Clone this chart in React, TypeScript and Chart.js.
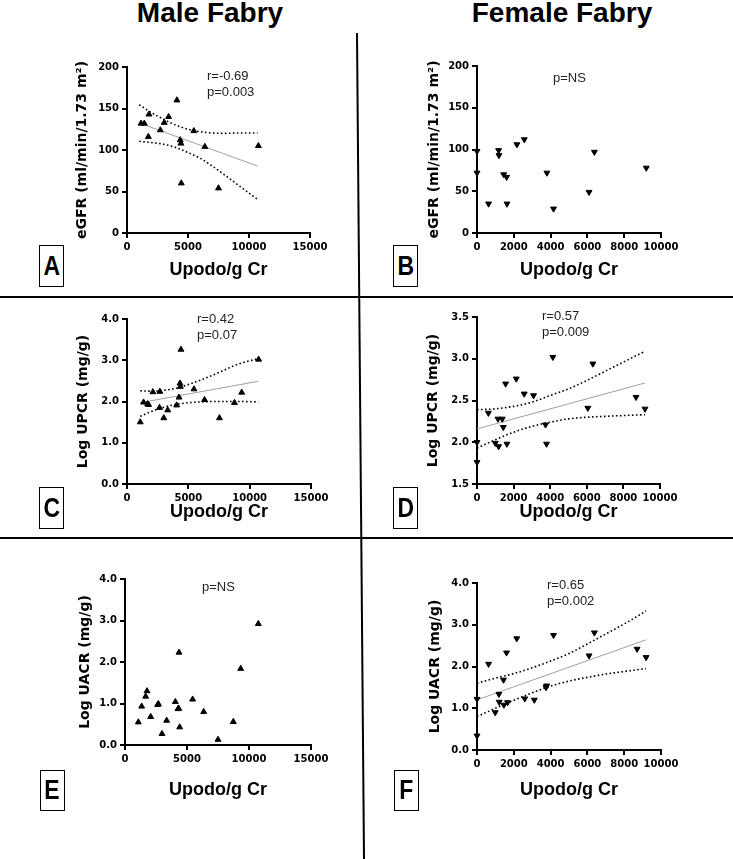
import React, { useEffect, useRef } from "react";
import { Chart, registerables } from "chart.js";
Chart.register(...registerables);

// ---------- Data ----------
// Panel A: Male Fabry, eGFR vs Upodo/g Cr
const aX = [1150, 1420, 1800, 1750, 2730, 3050, 3410, 4090, 4360, 4420, 4450, 5480, 6380, 7500, 10770];
const aY = [132, 132, 143, 116, 124, 133, 140, 160, 112, 108, 60, 123, 104, 54, 105];
const aFitX = [1000, 10700];
const aFitY = [132.5, 80.7];
const aCiX = [1000, 2000, 3000, 4000, 5000, 6000, 7000, 8000, 9000, 10700];
const aUpper = [154.5, 145, 137, 130, 125, 122, 120.5, 120, 120.5, 120.5];
const aLower = [110.5, 109, 107, 103, 97, 90, 80.5, 70, 59, 40.5];

// Panel B: Female Fabry, eGFR vs Upodo/g Cr
const bX = [0, 0, 630, 1175, 1195, 1450, 1610, 1630, 2170, 2570, 3800, 4160, 6090, 6380, 9200];
const bY = [98, 72, 35, 99, 93, 70, 67, 35, 106, 112, 72, 29, 49, 97, 78];

// Panel C: Male Fabry, Log UPCR vs Upodo/g Cr
const cX = [1080, 1350, 1680, 1760, 2110, 2680, 2650, 3000, 3320, 4050, 4240, 4320, 4350, 4400, 5460, 6320, 7540, 8760, 9350, 10730];
const cY = [1.5, 1.98, 1.94, 1.92, 2.23, 2.24, 1.85, 1.6, 1.79, 1.91, 2.1, 2.44, 2.36, 3.26, 2.3, 2.04, 1.6, 1.97, 2.22, 3.02];
const cFitX = [1080, 10700];
const cFitY = [1.97, 2.49];
const cCiX = [1080, 2000, 3000, 4000, 5000, 6000, 7000, 8000, 9000, 10700];
const cUpper = [2.26, 2.25, 2.27, 2.32, 2.41, 2.52, 2.64, 2.77, 2.9, 3.04];
const cLower = [1.64, 1.76, 1.86, 1.93, 1.97, 1.99, 2.0, 2.0, 2.0, 1.99];

// Panel D: Female Fabry, Log UPCR vs Upodo/g Cr
const dX = [0, 0, 620, 1000, 1145, 1180, 1380, 1435, 1565, 1635, 2145, 2580, 3090, 3745, 3800, 4145, 6055, 6330, 8690, 9180];
const dY = [2.0, 1.76, 2.35, 1.99, 2.28, 1.95, 2.28, 2.18, 2.7, 1.98, 2.76, 2.58, 2.56, 2.21, 1.98, 3.02, 2.41, 2.94, 2.54, 2.4];
const dFitX = [0, 9180];
const dFitY = [2.16, 2.71];
const dCiX = [0, 1000, 2000, 3000, 4000, 5000, 6000, 7000, 8000, 9180];
const dUpper = [2.39, 2.4, 2.43, 2.48, 2.56, 2.64, 2.74, 2.85, 2.96, 3.09];
const dLower = [1.93, 2.03, 2.12, 2.19, 2.24, 2.28, 2.3, 2.31, 2.32, 2.33];

// Panel E: Male Fabry, Log UACR vs Upodo/g Cr
const eX = [1075, 1345, 1665, 1775, 2070, 2635, 2690, 2985, 3360, 4060, 4275, 4330, 4355, 4410, 5455, 6345, 7500, 8735, 9330, 10750];
const eY = [0.55, 0.93, 1.17, 1.3, 0.68, 0.97, 0.99, 0.27, 0.59, 1.04, 0.87, 0.88, 2.23, 0.43, 1.1, 0.8, 0.13, 0.56, 1.84, 2.92];

// Panel F: Female Fabry, Log UACR vs Upodo/g Cr
const fX = [0, 0, 630, 990, 1190, 1205, 1440, 1460, 1605, 1660, 2160, 2595, 3115, 3750, 3785, 4160, 6090, 6380, 8700, 9190];
const fY = [1.22, 0.34, 2.06, 0.9, 1.34, 1.15, 1.68, 1.08, 2.33, 1.14, 2.67, 1.23, 1.2, 1.5, 1.54, 2.75, 2.26, 2.81, 2.42, 2.22];
const fFitX = [0, 9190];
const fFitY = [1.2, 2.64];
const fCiX = [0, 1000, 2000, 3000, 4000, 5000, 6000, 7000, 8000, 9190];
const fUpper = [1.6, 1.72, 1.83, 1.97, 2.13, 2.31, 2.54, 2.78, 3.02, 3.33];
const fLower = [0.8, 1.0, 1.19, 1.37, 1.53, 1.65, 1.74, 1.82, 1.88, 1.95];

// Axis settings / labels
const xTitle = "Upodo/g Cr";
const eGFRTitle = "eGFR (ml/min/1.73 m\u00B2)";
const upcrTitle = "Log UPCR (mg/g)";
const uacrTitle = "Log UACR (mg/g)";
const maleXMax = 15000;
const maleXStep = 5000;
const femaleXMax = 10000;
const femaleXStep = 2000;

const zip = (xs: number[], ys: number[]) => xs.map((x, i) => ({ x, y: ys[i] }));

type PanelDef = {
  cx: number; cy: number; cw: number; ch: number;
  L: number; T: number; R: number; B: number;
  yTitleX: number; xTitleY: number;
  xMax: number; xStep: number;
  yMin: number; yMax: number; yStep: number; yDec: number;
  yTitle: string;
  px: number[]; py: number[]; rot: number;
  fitX?: number[]; fitY?: number[];
  ciX?: number[]; up?: number[]; lo?: number[];
};

const Y_TITLE_LH = 14 * 1.2;
const X_TITLE_SIZE = 18;
const X_TITLE_LH = X_TITLE_SIZE * 1.2;

function Panel({ p }: { p: PanelDef }) {
  const ref = useRef<HTMLCanvasElement>(null);
  useEffect(() => {
    const canvas = ref.current!;
    const padL = p.yTitleX - p.cx - Y_TITLE_LH / 2;
    const yWidth = p.L - p.cx - padL;
    const padT = p.T - p.cy;
    const padR = p.cx + p.cw - p.R;
    const xBottom = p.xTitleY + X_TITLE_LH / 2;
    const xHeight = xBottom - p.B;
    const padB = p.cy + p.ch - xBottom;

    const datasets: any[] = [];
    if (p.fitX && p.fitY) {
      datasets.push({
        data: zip(p.fitX, p.fitY), showLine: true, borderColor: "#a0a0a0",
        borderWidth: 1, pointRadius: 0, order: 3,
      });
    }
    if (p.ciX && p.up && p.lo) {
      for (const arr of [p.up, p.lo]) {
        datasets.push({
          data: zip(p.ciX, arr), showLine: true, borderColor: "#000",
          borderWidth: 1.6, borderDash: [1.6, 2.4], pointRadius: 0,
          cubicInterpolationMode: "monotone", order: 2,
        });
      }
    }
    datasets.push({
      data: zip(p.px, p.py), pointStyle: "triangle", rotation: p.rot,
      pointRadius: 3.4, pointBackgroundColor: "#000", pointBorderColor: "#000",
      pointBorderWidth: 1, showLine: false, clip: false, order: 1,
    });

    const tickFont = { family: "'DejaVu Sans', sans-serif", weight: "bold" as const, size: 10 };
    const chart = new Chart(canvas, {
      type: "scatter",
      data: { datasets },
      options: {
        animation: false,
        responsive: false,
        devicePixelRatio: 1,
        layout: { padding: { left: padL, top: padT, right: padR, bottom: padB } },
        plugins: { legend: { display: false }, tooltip: { enabled: false } },
        scales: {
          x: {
            type: "linear", min: 0, max: p.xMax,
            ticks: {
              stepSize: p.xStep, font: tickFont, color: "#000", padding: 3, maxRotation: 0, autoSkip: false,
              callback: (v: any) => String(Math.round(Number(v))),
            },
            grid: { drawOnChartArea: false, drawTicks: true, tickLength: 5, color: "#000", lineWidth: 2 },
            border: { display: true, color: "#000", width: 2 },
            title: {
              display: true, text: xTitle, color: "#000", padding: 0,
              font: { family: "'Liberation Sans', Arial, sans-serif", weight: "bold", size: X_TITLE_SIZE, lineHeight: 1.2 },
            },
            afterFit: (s: any) => { s.height = xHeight; },
          },
          y: {
            type: "linear", min: p.yMin, max: p.yMax,
            ticks: {
              stepSize: p.yStep, font: tickFont, color: "#000", padding: 3,
              callback: (v: any) => Number(v).toFixed(p.yDec),
            },
            grid: { drawOnChartArea: false, drawTicks: true, tickLength: 5, color: "#000", lineWidth: 2 },
            border: { display: true, color: "#000", width: 2 },
            title: {
              display: true, text: p.yTitle, color: "#000", padding: 0,
              font: { family: "'DejaVu Sans', sans-serif", weight: "bold", size: 14, lineHeight: 1.2 },
            },
            afterFit: (s: any) => { s.width = yWidth; },
          },
        },
      } as any,
    });
    return () => chart.destroy();
  }, []);
  return (
    <canvas
      ref={ref}
      width={p.cw}
      height={p.ch}
      style={{ position: "absolute", left: p.cx, top: p.cy, width: p.cw, height: p.ch }}
    />
  );
}

const panels: PanelDef[] = [
  { cx: 60, cy: 45, cw: 290, ch: 250, L: 127, T: 67, R: 310, B: 233, yTitleX: 82, xTitleY: 270,
    xMax: maleXMax, xStep: maleXStep, yMin: 0, yMax: 200, yStep: 50, yDec: 0, yTitle: eGFRTitle,
    px: aX, py: aY, rot: 0, fitX: aFitX, fitY: aFitY, ciX: aCiX, up: aUpper, lo: aLower },
  { cx: 410, cy: 45, cw: 300, ch: 250, L: 477, T: 66, R: 661, B: 233, yTitleX: 434, xTitleY: 270,
    xMax: femaleXMax, xStep: femaleXStep, yMin: 0, yMax: 200, yStep: 50, yDec: 0, yTitle: eGFRTitle,
    px: bX, py: bY, rot: 180 },
  { cx: 60, cy: 300, cw: 290, ch: 235, L: 127, T: 319, R: 311, B: 484, yTitleX: 83, xTitleY: 512,
    xMax: maleXMax, xStep: maleXStep, yMin: 0, yMax: 4, yStep: 1, yDec: 1, yTitle: upcrTitle,
    px: cX, py: cY, rot: 0, fitX: cFitX, fitY: cFitY, ciX: cCiX, up: cUpper, lo: cLower },
  { cx: 410, cy: 300, cw: 300, ch: 235, L: 477, T: 317, R: 660, B: 484, yTitleX: 433, xTitleY: 512,
    xMax: femaleXMax, xStep: femaleXStep, yMin: 1.5, yMax: 3.5, yStep: 0.5, yDec: 1, yTitle: upcrTitle,
    px: dX, py: dY, rot: 180, fitX: dFitX, fitY: dFitY, ciX: dCiX, up: dUpper, lo: dLower },
  { cx: 60, cy: 555, cw: 290, ch: 260, L: 125, T: 579, R: 311, B: 745, yTitleX: 85, xTitleY: 790,
    xMax: maleXMax, xStep: maleXStep, yMin: 0, yMax: 4, yStep: 1, yDec: 1, yTitle: uacrTitle,
    px: eX, py: eY, rot: 0 },
  { cx: 410, cy: 555, cw: 300, ch: 260, L: 477, T: 583, R: 661, B: 750, yTitleX: 435, xTitleY: 790,
    xMax: femaleXMax, xStep: femaleXStep, yMin: 0, yMax: 4, yStep: 1, yDec: 1, yTitle: uacrTitle,
    px: fX, py: fY, rot: 180, fitX: fFitX, fitY: fFitY, ciX: fCiX, up: fUpper, lo: fLower },
];

const statFont: React.CSSProperties = {
  position: "absolute", fontFamily: "'Liberation Sans', Arial, sans-serif",
  fontSize: 13, lineHeight: "16px", color: "#222", whiteSpace: "pre",
};

const notes = [
  { left: 207, top: 67.5, text: "r=-0.69\np=0.003" },
  { left: 553, top: 69.5, text: "p=NS" },
  { left: 197, top: 310.5, text: "r=0.42\np=0.07" },
  { left: 542, top: 307.5, text: "r=0.57\np=0.009" },
  { left: 202, top: 578.5, text: "p=NS" },
  { left: 547, top: 576.5, text: "r=0.65\np=0.002" },
];

const letters = [
  { t: "A", left: 39, top: 245, h: 43 },
  { t: "B", left: 393, top: 245, h: 43 },
  { t: "C", left: 39, top: 487, h: 43 },
  { t: "D", left: 393, top: 487, h: 43 },
  { t: "E", left: 40, top: 770, h: 42 },
  { t: "F", left: 394, top: 770, h: 42 },
];

const titleStyle: React.CSSProperties = {
  position: "absolute", top: -1, textAlign: "center",
  fontFamily: "'Liberation Sans', Arial, sans-serif", fontWeight: "bold",
  fontSize: 28, lineHeight: "28px", color: "#000", whiteSpace: "nowrap",
};

export default function App() {
  return (
    <div style={{ position: "absolute", left: 0, top: 0, width: 733, height: 859, background: "#fff", overflow: "hidden" }}>
      <div style={{ ...titleStyle, left: 110, width: 200 }}>Male Fabry</div>
      <div style={{ ...titleStyle, left: 452, width: 220 }}>Female Fabry</div>
      {panels.map((p, i) => <Panel key={i} p={p} />)}
      {notes.map((n, i) => (
        <div key={i} style={{ ...statFont, left: n.left, top: n.top }}>{n.text}</div>
      ))}
      {letters.map((l, i) => (
        <div key={i} style={{ position: "absolute", left: l.left, top: l.top, width: 23, height: l.h - 3,
          border: "1.5px solid #000", display: "flex", alignItems: "center", justifyContent: "center",
          fontFamily: "'Liberation Sans', Arial, sans-serif", fontWeight: "bold", fontSize: 27, color: "#000", background: "#fff" }}>
          <span style={{ display: "inline-block", transform: "scaleX(0.85)" }}>{l.t}</span>
        </div>
      ))}
      <svg width={733} height={859} style={{ position: "absolute", left: 0, top: 0, pointerEvents: "none" }}>
        <line x1={357} y1={33} x2={364} y2={859} stroke="#000" strokeWidth={2} />
        <line x1={0} y1={297} x2={733} y2={297} stroke="#000" strokeWidth={2} />
        <line x1={0} y1={538} x2={733} y2={538} stroke="#000" strokeWidth={2} />
      </svg>
    </div>
  );
}
